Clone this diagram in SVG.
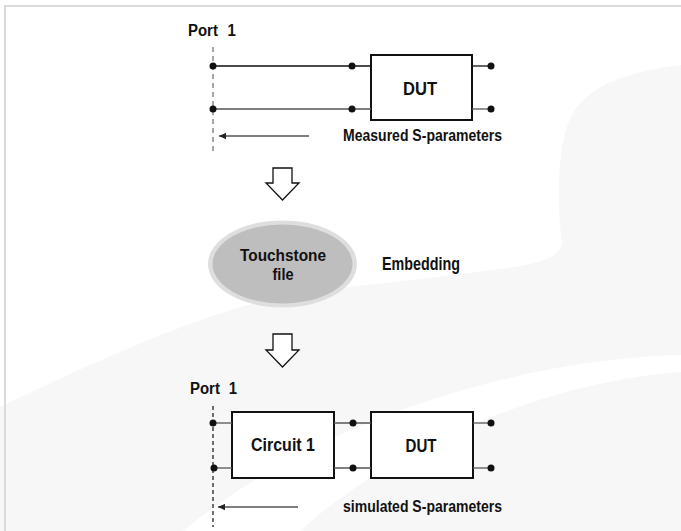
<svg xmlns="http://www.w3.org/2000/svg" width="681" height="531" viewBox="0 0 681 531">
<style>
.t{font-family:"Liberation Sans",Arial,sans-serif;font-weight:bold;fill:#111;}
.box{fill:#fff;stroke:#111;stroke-width:2;}
.w{stroke:#111;stroke-width:1.3;fill:none;}
.wg{stroke:#555;stroke-width:1.3;fill:none;}
.dot{fill:#111;}
.hollow{fill:#fff;stroke:#111;stroke-width:1.3;}
</style>
<defs>
<marker id="ah" viewBox="0 0 10 10" refX="10" refY="5" markerWidth="8" markerHeight="7" orient="auto" markerUnits="userSpaceOnUse">
<path d="M0,0.5 L10,5 L0,9.5 Z" fill="#222"/>
</marker>
</defs>
<g id="background">
<rect x="0" y="0" width="681" height="531" fill="#fff"/>
<path d="M681,65 C620,72 585,90 572,115 C558,140 556,200 562,243 C560,255 545,262 520,266 C440,278 360,285 300,293 C230,305 150,335 0,407 L0,531 L681,531 Z" fill="#f7f7f7"/>
<path d="M681,355 C540,358 330,410 183,531 L300,531 C400,440 560,380 681,372 Z" fill="#fff"/>
<path d="M5,531 L5,6 L681,6" fill="none" stroke="#dadada" stroke-width="2"/>
</g>
<g id="top-port">
<text class="t" transform="translate(188,36) scale(0.88,1)" x="0" y="0" font-size="17">Port <tspan x="45">1</tspan></text>
<line x1="213" y1="47" x2="213" y2="152" stroke="#777" stroke-width="1.3" stroke-dasharray="5,4"/>
</g>
<g id="top-dut">
<rect class="box" x="371" y="55" width="101" height="65"/>
<text class="t" x="420" y="95" font-size="18" text-anchor="middle" textLength="34" lengthAdjust="spacingAndGlyphs">DUT</text>
</g>
<g id="top-label">
<text class="t" x="343" y="140.5" font-size="16.5" textLength="159" lengthAdjust="spacingAndGlyphs">Measured S-parameters</text>
</g>
<g id="touchstone">
<ellipse cx="282.5" cy="264" rx="74.5" ry="43.5" fill="#dedede"/>
<ellipse cx="282.5" cy="264" rx="70" ry="39.5" fill="#bebebe"/>
<text class="t" x="283" y="260.5" font-size="17" text-anchor="middle" textLength="86" lengthAdjust="spacingAndGlyphs">Touchstone</text>
<text class="t" x="283" y="279.5" font-size="17" text-anchor="middle" textLength="21" lengthAdjust="spacingAndGlyphs">file</text>
</g>
<g id="embedding">
<text class="t" x="382" y="269.5" font-size="17.5" textLength="78" lengthAdjust="spacingAndGlyphs">Embedding</text>
</g>
<g id="bottom-port">
<text class="t" transform="translate(190,393.5) scale(0.88,1)" x="0" y="0" font-size="17">Port <tspan x="44">1</tspan></text>
<line x1="213" y1="406" x2="213" y2="527" stroke="#111" stroke-width="1.2" stroke-dasharray="4,3"/>
</g>
<g id="circuit1">
<rect class="box" x="232" y="412" width="102" height="66"/>
<text class="t" x="283" y="450.5" font-size="18" text-anchor="middle" textLength="64" lengthAdjust="spacingAndGlyphs">Circuit 1</text>
</g>
<g id="bottom-dut">
<rect class="box" x="371" y="412" width="102" height="66"/>
<text class="t" x="421" y="452" font-size="17.5" text-anchor="middle" textLength="31" lengthAdjust="spacingAndGlyphs">DUT</text>
</g>
<g id="bottom-label">
<text class="t" x="343" y="512" font-size="16.5" textLength="159" lengthAdjust="spacingAndGlyphs">simulated S-parameters</text>
</g>
<g id="connectors">
<line class="w" x1="213" y1="66" x2="371" y2="66"/>
<line class="wg" x1="213" y1="109" x2="371" y2="109"/>
<line class="w" x1="472" y1="66" x2="491" y2="66"/>
<line class="wg" x1="472" y1="109" x2="491" y2="109"/>
<circle class="dot" cx="213" cy="66" r="3.5"/>
<circle class="dot" cx="213" cy="109" r="3.5"/>
<circle class="dot" cx="352" cy="66" r="3.5"/>
<circle class="dot" cx="352" cy="109" r="3.5"/>
<circle class="dot" cx="491" cy="66" r="3.5"/>
<circle class="dot" cx="491" cy="109" r="3.5"/>
<line x1="309" y1="136" x2="219" y2="136" stroke="#555" stroke-width="1.3" marker-end="url(#ah)"/>
<path class="hollow" d="M273,168 L292,168 L292,183 L299,183 L282.5,200 L266,183 L273,183 Z"/>
<path class="hollow" d="M273,334 L292,334 L292,350 L299,350 L282.5,367 L266,350 L273,350 Z"/>
<line class="wg" x1="213" y1="423" x2="232" y2="423"/>
<line class="wg" x1="213" y1="468" x2="232" y2="468"/>
<line class="wg" x1="334" y1="423" x2="371" y2="423"/>
<line class="wg" x1="334" y1="468" x2="371" y2="468"/>
<line class="wg" x1="473" y1="423" x2="491" y2="423"/>
<line class="wg" x1="473" y1="468" x2="491" y2="468"/>
<circle class="dot" cx="213" cy="423" r="3.5"/>
<circle class="dot" cx="214" cy="468" r="3.5"/>
<circle class="dot" cx="353" cy="423" r="3.5"/>
<circle class="dot" cx="353" cy="468" r="3.5"/>
<circle class="dot" cx="491" cy="423" r="3.5"/>
<circle class="dot" cx="491" cy="468" r="3.5"/>
<line x1="298" y1="507" x2="218" y2="507" stroke="#555" stroke-width="1.3" marker-end="url(#ah)"/>
</g>
</svg>
